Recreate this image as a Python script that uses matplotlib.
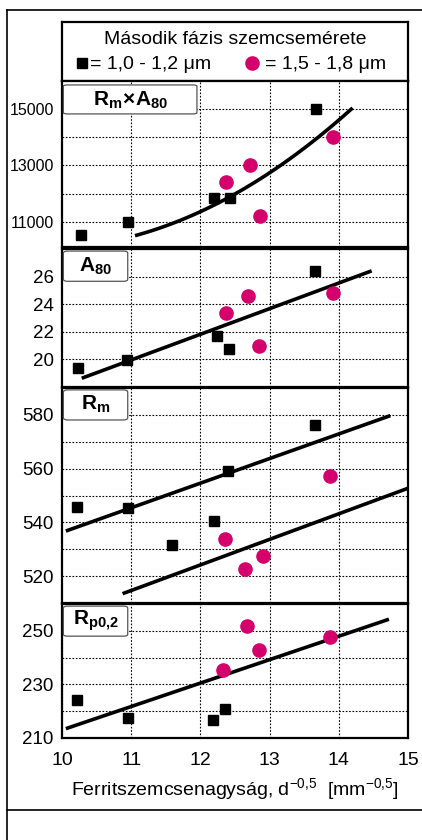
import numpy as np
import matplotlib
matplotlib.use('Agg')
import matplotlib.pyplot as plt
from matplotlib.patches import FancyBboxPatch
from matplotlib.lines import Line2D

plt.rcParams['font.family'] = ['Liberation Sans', 'DejaVu Sans']
plt.rcParams['mathtext.fontset'] = 'custom'
plt.rcParams['mathtext.rm'] = 'Liberation Sans'
plt.rcParams['mathtext.it'] = 'Liberation Sans'
plt.rcParams['mathtext.bf'] = 'Liberation Sans:bold'

MAGENTA = '#d4006c'

# --- Rm x A80 ---
rma_sq_x = [10.27, 10.96, 12.20, 12.43, 13.67]
rma_sq_y = [10540, 11000, 11840, 11840, 15000]
rma_ci_x = [12.37, 12.71, 12.86, 13.92]
rma_ci_y = [12400, 13000, 11210, 14000]
# quadratic trend: y = c0 + c1*(x - x0) + c2*(x - x0)^2
rma_fit_x0 = 11.08
rma_fit_coef = [10520, 683.1, 245.8]
rma_fit_range = [11.08, 14.18]

# --- A80 ---
a80_sq_x = [10.23, 10.94, 12.24, 12.41, 13.65]
a80_sq_y = [19.36, 19.95, 21.73, 20.78, 26.37]
a80_ci_x = [12.37, 12.69, 12.85, 13.91]
a80_ci_y = [23.34, 24.63, 21.00, 24.78]
a80_fit_x = [10.31, 14.45]
a80_fit_y = [18.68, 26.37]

# --- Rm ---
rm_sq_x = [10.22, 10.96, 11.59, 12.20, 12.40, 13.65]
rm_sq_y = [545.7, 545.4, 531.5, 540.6, 559.1, 576.4]
rm_ci_x = [12.36, 12.65, 12.90, 13.87]
rm_ci_y = [533.8, 522.6, 527.6, 557.4]
rm_fit1_x = [10.08, 14.72]
rm_fit1_y = [537.0, 579.5]
rm_fit2_x = [10.90, 15.0]
rm_fit2_y = [513.7, 552.7]

# --- Rp0,2 ---
rp_sq_x = [10.22, 10.96, 12.18, 12.36]
rp_sq_y = [224.0, 217.5, 216.9, 220.9]
rp_ci_x = [12.33, 12.67, 12.84, 13.87]
rp_ci_y = [235.4, 251.9, 242.7, 247.7]
rp_fit_x = [10.08, 14.70]
rp_fit_y = [213.7, 254.1]

fig = plt.figure(figsize=(4.22, 8.4), dpi=100)

L = 62 / 422
W = 346 / 422


def px_box(top, bottom):
    return [L, 1 - bottom / 840, W, (bottom - top) / 840]


def setup(ax, ylim, major, minor, fs=13.5):
    ax.set_xlim(10, 15)
    ax.set_ylim(*ylim)
    ax.set_xticks([11, 12, 13, 14])
    ax.set_xticklabels([])
    ax.set_yticks(major)
    ax.set_yticks(minor, minor=True)
    ax.tick_params(which='both', length=0, labelsize=fs, pad=6)
    ax.grid(True, which='both', color='black', linestyle=(0, (1.5, 1.5)), lw=0.8)
    for s in ax.spines.values():
        s.set_linewidth(1.6)


def name_box(ax, x0, y0, w, h, aspect, text, ty):
    ax.add_patch(FancyBboxPatch((x0, y0), w, h, boxstyle='round,pad=0,rounding_size=0.06',
                                facecolor='white', edgecolor='#555555', lw=0.9, zorder=3,
                                mutation_aspect=aspect))
    ax.text(x0 + w / 2, ty, text, ha='center', va='center', fontsize=15, zorder=5)


def marks(ax, sx, sy, cx, cy):
    ax.plot(sx, sy, 's', color='black', ms=7.5, zorder=4)
    ax.plot(cx, cy, 'o', color=MAGENTA, ms=9.5, zorder=4)


# legend header
axl = fig.add_axes(px_box(22, 81))
axl.set_xticks([])
axl.set_yticks([])
for s in axl.spines.values():
    s.set_linewidth(1.6)
axl.set_xlim(0, 1)
axl.set_ylim(0, 1)
axl.text(0.5, 0.70, 'Második fázis szemcsemérete', ha='center', va='center', fontsize=14)
axl.plot([0.058], [0.30], 's', color='black', ms=7)
axl.text(0.081, 0.28, '= 1,0 - 1,2 μm', ha='left', va='center', fontsize=14)
axl.plot([0.549], [0.30], 'o', color=MAGENTA, ms=9.5)
axl.text(0.587, 0.28, '= 1,5 - 1,8 μm', ha='left', va='center', fontsize=14)

# panel 1: Rm x A80
ax1 = fig.add_axes(px_box(81, 247))
setup(ax1, (10100, 16000), [11000, 13000, 15000], [12000, 14000], fs=11.5)
name_box(ax1, 10.02, 14830, 1.93, 1030, 700, r'$\mathbf{R_m\!\times\! A_{80}}$', 15330)
xc = np.linspace(rma_fit_range[0], rma_fit_range[1], 60)
u = xc - rma_fit_x0
ax1.plot(xc, rma_fit_coef[0] + rma_fit_coef[1] * u + rma_fit_coef[2] * u ** 2,
         color='black', lw=2.6, zorder=3)
marks(ax1, rma_sq_x, rma_sq_y, rma_ci_x, rma_ci_y)

# panel 2: A80
ax2 = fig.add_axes(px_box(249, 387))
setup(ax2, (18, 28), [20, 22, 24, 26], [])
name_box(ax2, 10.02, 25.66, 0.93, 2.19, 2.5, r'$\mathbf{A_{80}}$', 26.75)
ax2.plot(a80_fit_x, a80_fit_y, color='black', lw=2.6, zorder=3)
marks(ax2, a80_sq_x, a80_sq_y, a80_ci_x, a80_ci_y)

# panel 3: Rm
ax3 = fig.add_axes(px_box(388, 603))
setup(ax3, (510, 590), [520, 540, 560, 580], [530, 550, 570])
name_box(ax3, 10.02, 578.1, 0.93, 11.2, 15, r'$\mathbf{R_m}$', 583.8)
ax3.plot(rm_fit1_x, rm_fit1_y, color='black', lw=2.6, zorder=3)
ax3.plot(rm_fit2_x, rm_fit2_y, color='black', lw=2.6, zorder=3)
marks(ax3, rm_sq_x, rm_sq_y, rm_ci_x, rm_ci_y)

# panel 4: Rp0,2
ax4 = fig.add_axes(px_box(604, 738))
setup(ax4, (210, 260), [210, 230, 250], [220, 240])
name_box(ax4, 10.02, 248.0, 0.93, 11.2, 12, r'$\mathbf{R_{p0{,}2}}$', 253.6)
ax4.plot(rp_fit_x, rp_fit_y, color='black', lw=2.6, zorder=3)
marks(ax4, rp_sq_x, rp_sq_y, rp_ci_x, rp_ci_y)

ax4.set_xticks([10, 11, 12, 13, 14, 15])
ax4.set_xticklabels(['10', '11', '12', '13', '14', '15'])
ax4.tick_params(axis='x', labelsize=14, pad=10)
ax4.set_xlabel(r'Ferritszemcsenagyság, d$^{-0{,}5}$  [mm$^{-0{,}5}$]', fontsize=14, labelpad=5)

# outer frame
fig.add_artist(Line2D([7 / 422, 7 / 422], [0, 1 - 10 / 840], transform=fig.transFigure,
                      color='black', lw=1.2))
fig.add_artist(Line2D([7 / 422, 1], [1 - 10 / 840, 1 - 10 / 840], transform=fig.transFigure,
                      color='black', lw=1.2))
fig.add_artist(Line2D([7 / 422, 1], [1 - 810 / 840, 1 - 810 / 840], transform=fig.transFigure,
                      color='black', lw=1.2))

fig.savefig('out.png', dpi=100)
